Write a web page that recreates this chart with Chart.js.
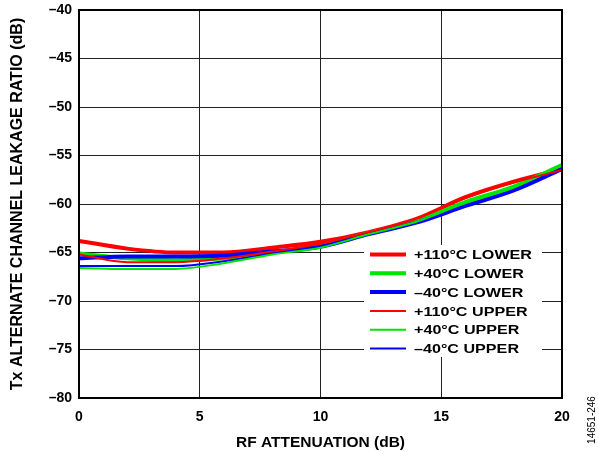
<!DOCTYPE html>
<html>
<head>
<meta charset="utf-8">
<script src="https://cdn.jsdelivr.net/npm/chart.js@4/dist/chart.umd.min.js"></script>
<style>
html,body{margin:0;padding:0;background:#fff;}
#wrap{position:relative;width:599px;height:452px;}
canvas{display:block;}
</style>
</head>
<body>
<div id="wrap"><canvas id="c" width="599" height="452"></canvas></div>
<script>
const attenuation = [0, 2, 4, 6, 8, 10, 12, 14, 16, 18, 20];
const lower110 = [-63.8, -64.6, -65.0, -65.0, -64.5, -63.9, -62.9, -61.5, -59.3, -57.7, -56.4];
const lower40  = [-65.1, -65.6, -65.8, -65.6, -65.0, -64.3, -63.0, -61.7, -59.8, -58.2, -56.0];
const lowerM40 = [-65.6, -65.4, -65.4, -65.3, -64.9, -64.4, -63.1, -61.9, -60.2, -58.6, -56.4];
const upper110 = [-65.2, -66.0, -66.0, -65.6, -64.9, -64.1, -62.9, -61.5, -59.4, -57.8, -56.5];
const upper40  = [-66.6, -66.7, -66.7, -66.1, -65.2, -64.5, -63.1, -61.8, -59.9, -58.3, -56.0];
const upperM40 = [-66.4, -66.4, -66.4, -65.9, -65.1, -64.4, -63.1, -61.9, -60.2, -58.6, -56.4];
const seriesLabels = ['+110°C LOWER', '+40°C LOWER', '–40°C LOWER', '+110°C UPPER', '+40°C UPPER', '–40°C UPPER'];

const FONT = '"Liberation Sans", Arial, sans-serif';

function pts(ys){ return attenuation.map((x,i)=>({x:x,y:ys[i]})); }
const RED='#ff0000', GREEN='#00e600', BLUE='#0000ff';
const datasets = [
  {label: seriesLabels[3], data: pts(upper110), borderColor: RED, borderWidth: 2},
  {label: seriesLabels[4], data: pts(upper40), borderColor: GREEN, borderWidth: 2},
  {label: seriesLabels[5], data: pts(upperM40), borderColor: BLUE, borderWidth: 2},
  {label: seriesLabels[2], data: pts(lowerM40), borderColor: BLUE, borderWidth: 4},
  {label: seriesLabels[1], data: pts(lower40), borderColor: GREEN, borderWidth: 4},
  {label: seriesLabels[0], data: pts(lower110), borderColor: RED, borderWidth: 4}
].map(d=>Object.assign(d,{pointRadius:0, fill:false, tension:0.3, cubicInterpolationMode:'monotone'}));

const frameAndLegend = {
  id: 'frameAndLegend',
  afterDatasetsDraw(chart){
    const ctx = chart.ctx, a = chart.chartArea;
    ctx.save();
    // legend box
    const bx = 364, by = 245, bw = 178, bh = 112;
    ctx.fillStyle = '#fff';
    ctx.fillRect(bx, by, bw, bh);
    const order = [5,4,3,0,1,2];
    ctx.font = 'bold 13.5px ' + FONT;
    ctx.textBaseline = 'middle';
    ctx.textAlign = 'left';
    const refW = ctx.measureText(seriesLabels[0]).width;
    const sx = 118 / refW;
    order.forEach((di, i) => {
      const ds = chart.data.datasets[di];
      const y = 254.5 + i * 18.8;
      ctx.strokeStyle = ds.borderColor;
      ctx.lineWidth = ds.borderWidth;
      ctx.beginPath(); ctx.moveTo(370, y); ctx.lineTo(406, y); ctx.stroke();
      ctx.fillStyle = '#000';
      ctx.save();
      ctx.translate(414, y + 1);
      ctx.scale(sx, 1);
      ctx.fillText(ds.label, 0, 0);
      ctx.restore();
    });
    // frame
    ctx.strokeStyle = '#000';
    ctx.lineWidth = 2;
    ctx.strokeRect(a.left, a.top, a.right - a.left, a.bottom - a.top);
    // side id
    ctx.translate(592, 420);
    ctx.rotate(-Math.PI/2);
    ctx.font = '10px ' + FONT;
    ctx.fillStyle = '#000';
    ctx.textAlign = 'center';
    ctx.textBaseline = 'middle';
    ctx.fillText('14651-246', 0, 0);
    ctx.restore();
  }
};

new Chart(document.getElementById('c'), {
  type: 'line',
  data: { datasets: datasets },
  options: {
    responsive: false,
    animation: false,
    layout: { padding: { left: 0, right: 37, top: 10, bottom: 0 } },
    plugins: { legend: { display: false }, tooltip: { enabled: false } },
    scales: {
      x: {
        type: 'linear', min: 0, max: 20,
        ticks: { stepSize: 5, color: '#000', font: { family: FONT, weight: 'bold', size: 14 }, padding: 11, maxRotation: 0 },
        grid: { color: '#222', lineWidth: 1, drawTicks: false },
        border: { color: '#000', width: 2 },
        title: { display: true, text: 'RF ATTENUATION (dB)', color: '#000', font: { family: FONT, weight: 'bold', size: 15.5 }, padding: { top: 3, bottom: 0 } },
        afterFit(s){ s.height = 54; s.paddingLeft = 0; s.paddingRight = 0; }
      },
      y: {
        type: 'linear', min: -80, max: -40,
        ticks: { stepSize: 5, color: '#000', font: { family: FONT, weight: 'bold', size: 14 }, padding: 7,
          callback: v => (v < 0 ? '–' + Math.abs(v) : String(v)) },
        grid: { color: '#222', lineWidth: 1, drawTicks: false },
        border: { color: '#000', width: 2 },
        title: { display: true, text: 'Tx ALTERNATE CHANNEL LEAKAGE RATIO (dB)', color: '#000', font: { family: FONT, weight: 'bold', size: 16 }, padding: { top: 8, bottom: 0 } },
        afterFit(s){ s.width = 79; s.paddingTop = 0; s.paddingBottom = 0; }
      }
    }
  },
  plugins: [frameAndLegend]
});
</script>
</body>
</html>
